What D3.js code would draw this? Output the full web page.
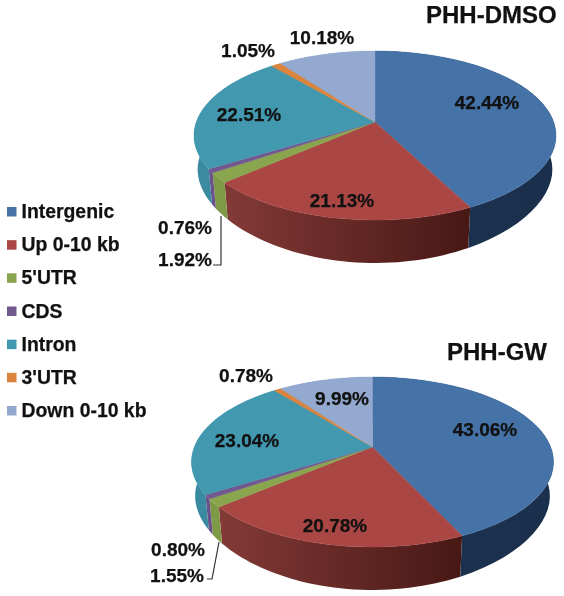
<!DOCTYPE html>
<html><head><meta charset="utf-8">
<script src="https://cdn.jsdelivr.net/npm/d3@7"></script>
<style>html,body{margin:0;background:#fff}svg{display:block;filter:blur(0.45px)}text{font-family:"Liberation Sans",Arial,sans-serif;font-weight:bold;fill:#111;stroke:#111;stroke-width:0.25px}</style>
</head><body><svg id="c" width="564" height="596"></svg>
<script>
const categories=["Intergenic","Up 0-10 kb","5'UTR","CDS","Intron","3'UTR","Down 0-10 kb"];
const dmsoValues=[42.44,21.13,1.92,0.76,22.51,1.05,10.18];
const gwValues=[43.06,20.78,1.55,0.80,23.04,0.78,9.99];
const dmsoLabels=["42.44%","21.13%","1.92%","0.76%","22.51%","1.05%","10.18%"];
const gwLabels=["43.06%","20.78%","1.55%","0.80%","23.04%","0.78%","9.99%"];
const topColors=["#4572a7","#aa4643","#89a54e","#71588f","#4198af","#db843d","#93a9cf"];
const wallLeft=["#1c3452","#833a37","#7f9a47","#6a5288","#3a8aa2","#c97a38","#8a9fc4"];
const wallRight=["#1a2f4b","#471815","#7f9a47","#6a5288","#3a8aa2","#c97a38","#8a9fc4"];

// layout (separate from the data)
const charts=[
 {id:"a",values:dmsoValues,labels:dmsoLabels,title:"PHH-DMSO",titleX:426,titleY:23,cx:375,cy:122,up:71,down:98,
  pos:[[487,109],[342,207],[185,266],[185,234],[249,121],[248,57],[322,44]],
  leader:[[221,216],[221,265],[213,265]]},
 {id:"b",values:gwValues,labels:gwLabels,title:"PHH-GW",titleX:447,titleY:360,cx:372.5,cy:447,up:70,down:100,
  pos:[[485,436],[335,532],[177,582],[178,556],[247,447],[246,382],[342,405]],
  leader:[[219,542],[212,579],[207,579]]}
];
const svg=d3.select("#c"),defs=svg.append("defs");
const line=d3.line();

charts.forEach(ch=>{
  const k=(ch.down-ch.up)/(ch.down+ch.up), a=ch.up*(1+k), A=181*Math.sqrt(1-k*k);
  // perspective projection of the unit disc; the lower rim is derived from the upper one
  const rim=ang=>{
    const u=Math.sin(ang),v=Math.cos(ang),w=1+k*v;
    return [ch.cx+A*u/w, ch.cy-a*v/w];
  };
  const lower=ang=>{
    const [x,y]=rim(ang),t=(x-ch.cx)/181;
    return [ch.cx+0.98*(x-ch.cx), y+43-9*t*t];
  };
  const arcs=d3.pie().sort(null)(ch.values);
  const g=svg.append("g");
  const samples=(s,e)=>d3.range(0,41).map(i=>s+(e-s)*i/40);
  arcs.forEach((d,i)=>{
    const gid=`w${ch.id}${i}`;
    const gr=defs.append("linearGradient").attr("id",gid);
    gr.append("stop").attr("offset",0).attr("stop-color",wallLeft[i]);
    gr.append("stop").attr("offset",1).attr("stop-color",wallRight[i]);
    const as=samples(d.startAngle,d.endAngle);
    const pts=as.map(rim).concat(as.slice().reverse().map(lower));
    g.append("path").attr("d",line(pts)+"Z").attr("fill",`url(#${gid})`);
  });
  arcs.forEach((d,i)=>{
    const as=samples(d.startAngle,d.endAngle);
    const pts=[[ch.cx,ch.cy]].concat(as.map(rim));
    g.append("path").attr("d",line(pts)+"Z").attr("fill",topColors[i]).attr("stroke",topColors[i]).attr("stroke-width",0.4);
  });
  svg.append("path").attr("d",line(ch.leader)).attr("fill","none").attr("stroke","#333").attr("stroke-width",1.2);
  ch.labels.forEach((t,i)=>svg.append("text").attr("x",ch.pos[i][0]).attr("y",ch.pos[i][1]).attr("text-anchor","middle").attr("font-size",19).text(t));
  svg.append("text").attr("x",ch.titleX).attr("y",ch.titleY).attr("font-size",24).text(ch.title);
});

const ly=d3.scalePoint().domain(categories).range([212,411]);
categories.forEach((c,i)=>{
  svg.append("rect").attr("x",7).attr("y",ly(c)-5).attr("width",9.5).attr("height",9.5).attr("fill",topColors[i]);
  svg.append("text").attr("x",21.5).attr("y",ly(c)+6).attr("font-size",19.4).text(c);
});
</script></body></html>
